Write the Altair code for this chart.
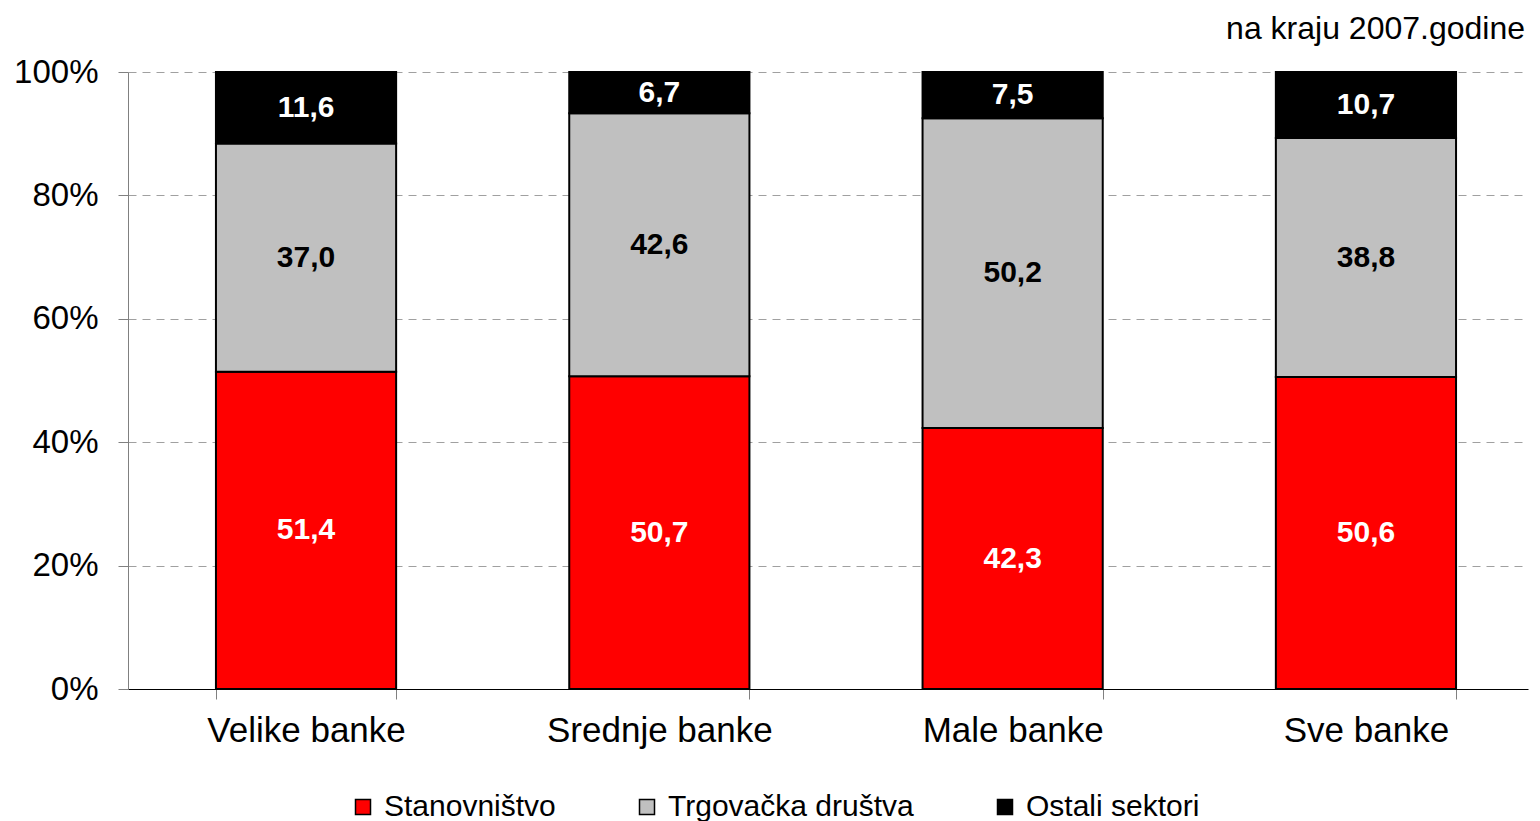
import altair as alt
import pandas as pd

banks = ["Velike banke", "Srednje banke", "Male banke", "Sve banke"]
series = ["Stanovništvo", "Trgovačka društva", "Ostali sektori"]
stanovnistvo = [51.4, 50.7, 42.3, 50.6]
trgovacka = [37.0, 42.6, 50.2, 38.8]
ostali = [11.6, 6.7, 7.5, 10.7]
colors = ["#FF0000", "#C0C0C0", "#000000"]
text_colors = ["#FFFFFF", "#000000", "#FFFFFF"]

rows = []
for i, b in enumerate(banks):
    for j, (s, vals) in enumerate(zip(series, [stanovnistvo, trgovacka, ostali])):
        rows.append({"bank": b, "series": s, "value": vals[i], "order": j, "tcolor": text_colors[j]})
df = pd.DataFrame(rows)

FONT = "Liberation Sans"

base = alt.Chart(df).transform_stack(
    stack="value", groupby=["bank"], as_=["y0", "y1"], offset="normalize",
    sort=[alt.SortField("order", order="ascending")]
).transform_calculate(
    mid="(datum.y0 + datum.y1) / 2",
    label="replace(format(datum.value, '.1f'), '.', ',')"
)

xscale = alt.Scale(paddingInner=0.49, paddingOuter=0.2263, align=0.55)

xenc = alt.X("bank:N", sort=banks, title=None, scale=xscale,
             axis=alt.Axis(labelAngle=0, labelFontSize=35, labelFont=FONT, labelColor="black",
                           labelPadding=14, labelLimit=0, tickBand="extent", tickSize=10,
                           tickColor="#808080", domainColor="black", domainWidth=1.2, grid=False))

bars = base.mark_bar(stroke="black", strokeWidth=2).encode(
    x=xenc,
    y=alt.Y("y0:Q", title=None, scale=alt.Scale(domain=[0, 1]),
            axis=alt.Axis(format="%", values=[0, 0.2, 0.4, 0.6, 0.8, 1.0],
                          labelFontSize=33, labelFont=FONT, labelColor="black",
                          labelPadding=20, tickSize=10, tickColor="#808080",
                          domainColor="#808080", grid=True, gridColor="#A0A0A0",
                          gridDash=[8, 6], gridWidth=1)),
    y2="y1:Q",
    color=alt.Color("series:N", sort=series,
                    scale=alt.Scale(domain=series, range=colors),
                    legend=alt.Legend(title=None, orient="none", direction="horizontal",
                                      legendX=220, legendY=720, symbolType="square",
                                      symbolSize=225, symbolStrokeColor="black",
                                      symbolStrokeWidth=1.5, labelFontSize=30,
                                      labelFont=FONT, labelColor="black", labelOffset=6,
                                      labelLimit=0, columnPadding=76)),
    order=alt.Order("order:Q")
)

texts = base.mark_text(fontSize=30, fontWeight="bold", font=FONT).encode(
    x=alt.X("bank:N", sort=banks),
    y=alt.Y("mid:Q"),
    text="label:N",
    color=alt.Color("tcolor:N", scale=None)
)

chart = alt.layer(bars, texts).properties(
    width=1400, height=617,
    title=alt.TitleParams("na kraju 2007.godine", anchor="end", fontSize=32,
                          fontWeight="normal", font=FONT, color="black", offset=10, dx=-3),
    autosize=alt.AutoSizeParams(type="none"),
    padding={"left": 120, "top": 64, "right": 4, "bottom": 132}
).configure_view(stroke="transparent")

chart.save("out.html", embed_options={"renderer": "svg", "actions": False})
